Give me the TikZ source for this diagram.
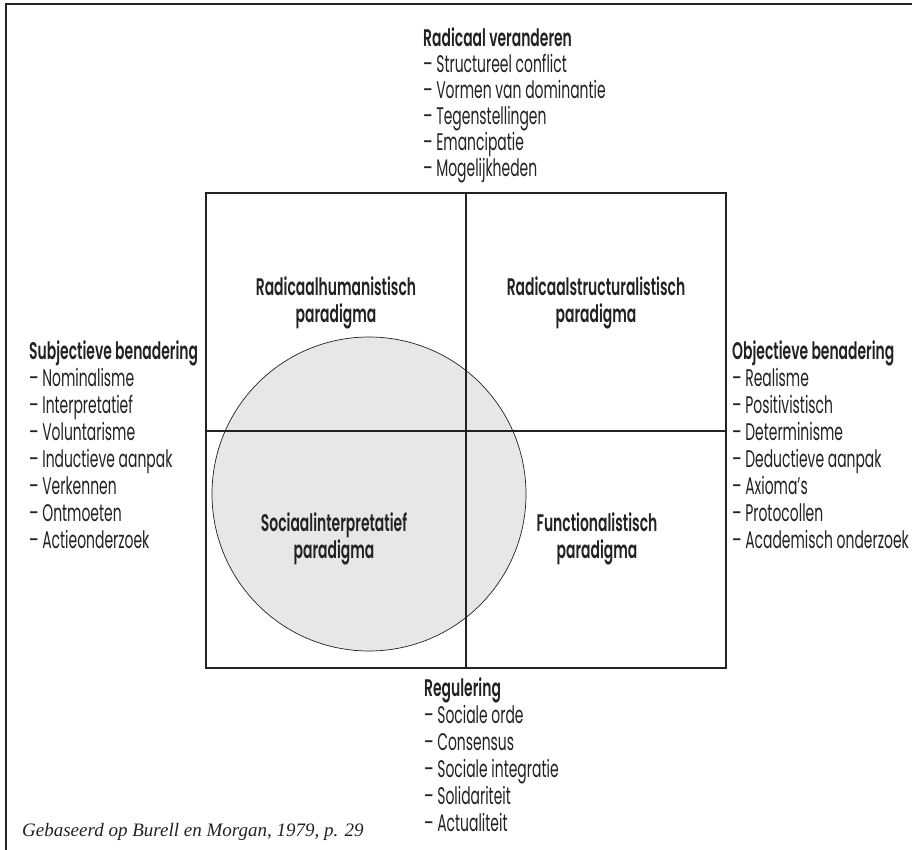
\documentclass[tikz,border=0pt]{standalone}
\usepackage{fontspec}
\setmainfont{Poppins}[FakeStretch=0.58, BoldFont={Poppins SemiBold}]
\newfontfamily\citefont{Liberation Serif}
\definecolor{circlegrey}{HTML}{E6E7E9}
\definecolor{linegrey}{HTML}{222222}
\tikzset{
  every node/.style={inner sep=0pt, text=linegrey},
  list text/.style={align=left, anchor=north west, font=\fontsize{24}{#1}\selectfont},
  list text/.default=27,
  paradigm/.style={align=center, font=\bfseries\fontsize{24}{27}\selectfont},
  thick line/.style={draw=linegrey, line width=2pt},
  thin line/.style={draw=linegrey, line width=1.1pt}
}

\begin{document}
\begin{tikzpicture}[x=1pt, y=-1pt]
  \useasboundingbox (0,0) rectangle (912,850);

  % corners of the square
  \coordinate (NW) at (206,193);
  \coordinate (SE) at (726,668);
  \coordinate (N)  at (466,193);
  \coordinate (S)  at (466,668);
  \coordinate (W)  at (206,431);
  \coordinate (E)  at (726,431);
  \coordinate (frameNW) at (6,4);
  \coordinate (frameNE) at (912,4);
  \coordinate (frameSW) at (6,850);

  \node [circle, draw=linegrey, fill=circlegrey, line width=0.7pt, minimum size=314pt] (C) at (369,494) {};

  \draw [thick line] (frameNE) -- (frameNW) -- (frameSW);
  \draw [thick line] (NW) rectangle (SE);
  \draw [thick line] (W) -- (E);
  \draw [thin line]  (N) -- (S);

  \node [paradigm] (RH) at (336,303) {Radicaalhumanistisch\\paradigma};
  \node [paradigm] (RS) at (596,303) {Radicaalstructuralistisch\\paradigma};
  \node [paradigm] (SI) at (334,539) {Sociaalinterpretatief\\paradigma};
  \node [paradigm] (FU) at (597,539) {Functionalistisch\\paradigma};

  \node [list text=26] (top) at (423,27)  {\textbf{Radicaal veranderen}\\– Structureel conflict\\– Vormen van dominantie\\– Tegenstellingen\\– Emancipatie\\– Mogelijkheden};
  \node [list text] (left)   at (29,340)  {\textbf{Subjectieve benadering}\\– Nominalisme\\– Interpretatief\\– Voluntarisme\\– Inductieve aanpak\\– Verkennen\\– Ontmoeten\\– Actieonderzoek};
  \node [list text] (right)  at (732,340) {\textbf{Objectieve benadering}\\– Realisme\\– Positivistisch\\– Determinisme\\– Deductieve aanpak\\– Axioma's\\– Protocollen\\– Academisch onderzoek};
  \node [list text] (bottom) at (424,677) {\textbf{Regulering}\\– Sociale orde\\– Consensus\\– Sociale integratie\\– Solidariteit\\– Actualiteit};

  \node [anchor=base west, font=\citefont\itshape\fontsize{19}{22}\selectfont] (src) at (22,836) {Gebaseerd op Burell en Morgan, 1979, p. 29};
\end{tikzpicture}
\end{document}
